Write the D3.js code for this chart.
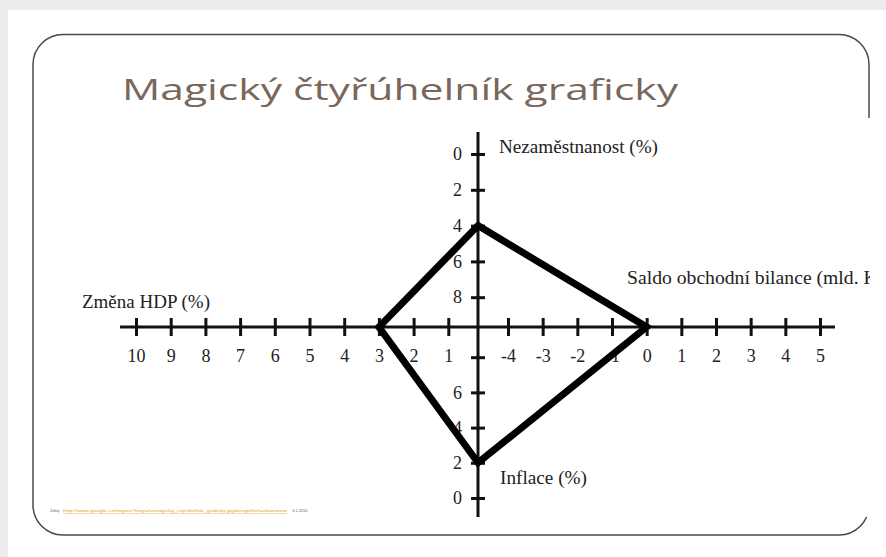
<!DOCTYPE html>
<html>
<head>
<meta charset="utf-8">
<script src="https://cdn.jsdelivr.net/npm/d3@7"></script>
<style>
    body { margin: 0; background: #fff; }
    svg { display: block; }
</style>
</head>
<body>
<svg id="mainsvg" width="886" height="557"></svg>
<script>
// chart data
let titleText = "Magický čtyřúhelník graficky";
let axisTitles = ["Nezaměstnanost (%)", "Saldo obchodní bilance (mld. Kč)", "Inflace (%)", "Změna HDP (%)"];
let unempTicks = [0, 2, 4, 6, 8];
let unempLabels = [0, 2, 4, 6, 8];
let inflTicks = [0, 2, 4, 6, 8];
let inflLabels = [0, 2, 4, 6];
let hdpTicks = [10, 9, 8, 7, 6, 5, 4, 3, 2, 1];
let saldoTicks = [-4, -3, -2, -1, 0, 1, 2, 3, 4, 5];
// values of the four goals: unemployment, trade balance, inflation, GDP change
let goalValues = [4, 0, 2, 3];
let sourceText = ["Zdroj:", "http://www.google.cz/imgres?imgurl=magicky_ctyruhelnik_graficky.jpg&imgrefurl=ekonomie", "3.1.2014"];

let svg = d3.select("#mainsvg");
let serif = "'Liberation Serif', 'Times New Roman', serif";

// slide background + frame
svg.append("rect").attr("width", 886).attr("height", 557).attr("fill", "#ededed");
svg.append("rect").attr("x", 8).attr("y", 10).attr("width", 878).attr("height", 547).attr("fill", "#fff");
svg.append("rect")
    .attr("x", 33).attr("y", 34.5).attr("width", 836).attr("height", 500.5)
    .attr("rx", 30).attr("ry", 30)
    .attr("fill", "none").attr("stroke", "#4a4a4a").attr("stroke-width", 1.5);

svg.append("text")
    .attr("x", 122).attr("y", 100)
    .attr("font-family", "'Open Sans', sans-serif")
    .attr("font-size", 29)
    .attr("fill", "#7a675b")
    .attr("textLength", 556).attr("lengthAdjust", "spacingAndGlyphs")
    .text(titleText);

// the chart picture (white, hides the right frame edge)
svg.append("defs").append("clipPath").attr("id", "chartclip")
    .append("rect").attr("x", 40).attr("y", 118).attr("width", 830).attr("height", 399);
svg.append("rect").attr("x", 40).attr("y", 118).attr("width", 832).attr("height", 399).attr("fill", "#fff");

let chart = svg.append("g").attr("clip-path", "url(#chartclip)");

let axisX = 478, axisY = 327;
let yUnemp = d3.scaleLinear().domain([0, 10]).range([154, 333]);
let yInfl = d3.scaleLinear().domain([0, 10]).range([498, 322]);
let xHdp = d3.scaleLinear().domain([10, 0]).range([136, 483]);
let xSaldo = d3.scaleLinear().domain([-4, 5]).range([508, 820]);

// axis lines
chart.append("line").attr("x1", 120).attr("x2", 835).attr("y1", axisY).attr("y2", axisY)
    .attr("stroke", "#111").attr("stroke-width", 3);
chart.append("line").attr("x1", axisX).attr("x2", axisX).attr("y1", 132).attr("y2", 517)
    .attr("stroke", "#111").attr("stroke-width", 3);

function styleAxis(g) {
    g.select(".domain").remove();
    g.selectAll(".tick line").attr("stroke", "#111").attr("stroke-width", 3);
    g.selectAll(".tick text").attr("fill", "#222").attr("font-family", serif).attr("font-size", 18);
    g.attr("font-family", null).attr("font-size", null);
}

let tick = 18;
chart.append("g")
    .attr("transform", "translate(0," + (axisY - tick / 2) + ")")
    .call(d3.axisBottom(xHdp).tickValues(hdpTicks).tickSize(tick).tickPadding(13).tickFormat(d => String(d)))
    .call(styleAxis);
chart.append("g")
    .attr("transform", "translate(0," + (axisY - tick / 2) + ")")
    .call(d3.axisBottom(xSaldo).tickValues(saldoTicks).tickSize(tick).tickPadding(13).tickFormat(d => String(d)))
    .call(styleAxis);

let vtick = 14;
chart.append("g")
    .attr("transform", "translate(" + (axisX + vtick / 2) + ",0)")
    .call(d3.axisLeft(yUnemp).tickValues(unempTicks).tickSize(vtick).tickPadding(9)
        .tickFormat(d => unempLabels.includes(d) ? String(d) : ""))
    .call(styleAxis);
chart.append("g")
    .attr("transform", "translate(" + (axisX + vtick / 2) + ",0)")
    .call(d3.axisLeft(yInfl).tickValues(inflTicks).tickSize(vtick).tickPadding(9)
        .tickFormat(d => inflLabels.includes(d) ? String(d) : ""))
    .call(styleAxis);

// axis titles
let titlePos = [
    {x: 499, y: 153, w: 159},
    {x: 627, y: 284, w: 266},
    {x: 500, y: 484, w: 87},
    {x: 82, y: 308, w: 128}
];
chart.selectAll(".axistitle").data(axisTitles).enter()
    .append("text")
    .attr("class", "axistitle")
    .attr("x", (d, i) => titlePos[i].x)
    .attr("y", (d, i) => titlePos[i].y)
    .attr("textLength", (d, i) => titlePos[i].w)
    .attr("lengthAdjust", "spacingAndGlyphs")
    .attr("font-family", serif).attr("font-size", 18).attr("fill", "#222")
    .text(d => d);

// the quadrilateral
let quad = [
    [axisX, yUnemp(goalValues[0])],
    [xSaldo(goalValues[1]), axisY],
    [axisX, yInfl(goalValues[2])],
    [xHdp(goalValues[3]), axisY]
];
chart.append("path")
    .attr("d", d3.line()(quad) + "Z")
    .attr("fill", "none").attr("stroke", "#000").attr("stroke-width", 7)
    .attr("stroke-linejoin", "miter").attr("stroke-miterlimit", 3);

// tiny source line
let src = svg.append("text").attr("y", 512).attr("font-family", "'Liberation Sans', sans-serif").attr("font-size", 4);
src.append("tspan").attr("x", 50).attr("fill", "#666").text(sourceText[0]);
src.append("tspan").attr("x", 63).attr("fill", "#e3a31a").attr("text-decoration", "underline")
    .attr("textLength", 224).attr("lengthAdjust", "spacingAndGlyphs").text(sourceText[1]);
src.append("tspan").attr("x", 292).attr("fill", "#666").text(sourceText[2]);
</script>
</body>
</html>
